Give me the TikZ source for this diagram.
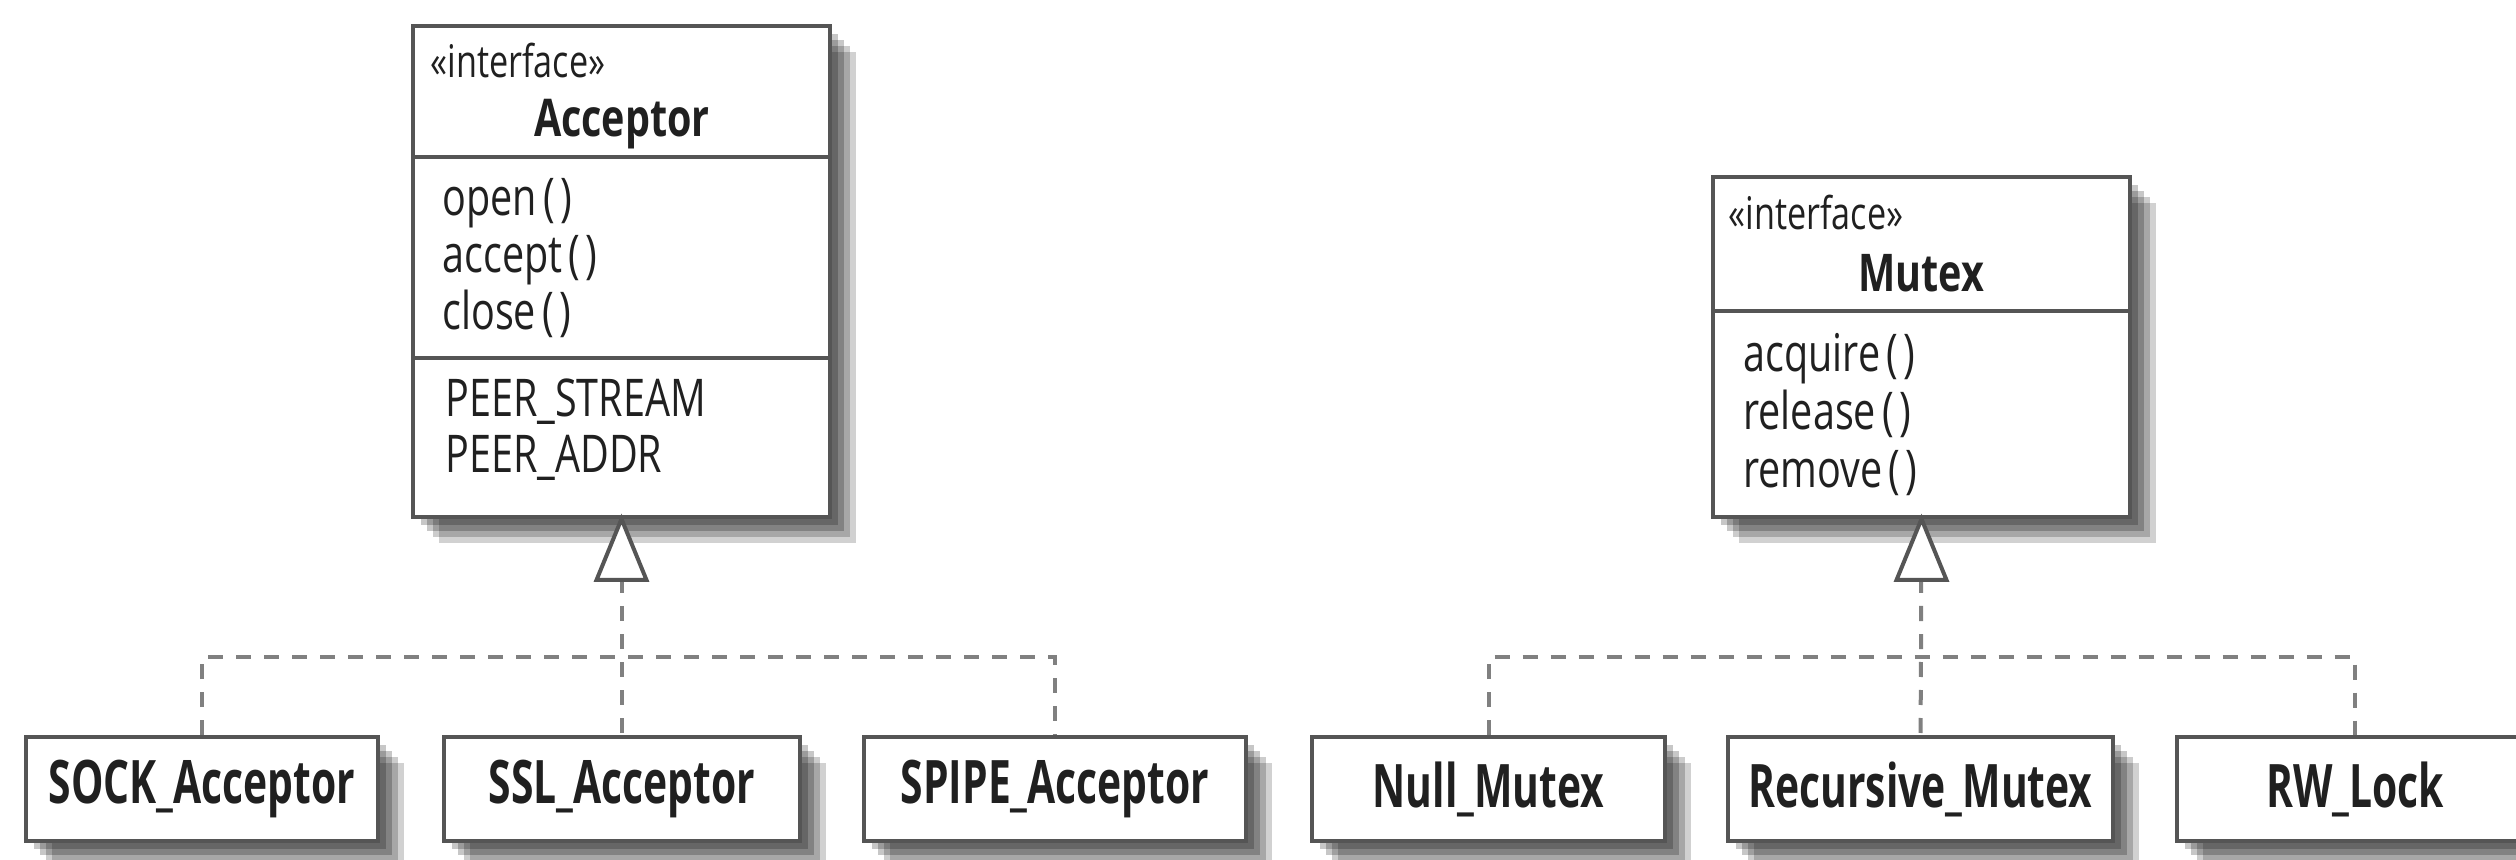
\documentclass[tikz,border=0pt]{standalone}
\usepackage{fontspec}
\setmainfont{Open Sans}[FakeStretch=0.76]
\newfontfamily\lblfont{Open Sans}[FakeStretch=0.68]
\usetikzlibrary{shadows}
\definecolor{bord}{HTML}{555555}
\definecolor{dashc}{HTML}{808080}
\definecolor{txt}{HTML}{202020}
\newcommand{\prs}{\hspace{0.12em}(\hspace{0.1em})}
\begin{document}
\begin{tikzpicture}[x=0.5pt,y=-0.5pt,
  shd/.style={
    drop shadow={shadow xshift=4pt,shadow yshift=-4pt,opacity=0.22,fill=black},
    drop shadow={shadow xshift=7pt,shadow yshift=-7pt,opacity=0.22,fill=black},
    drop shadow={shadow xshift=10pt,shadow yshift=-10pt,opacity=0.2,fill=black},
    drop shadow={shadow xshift=13pt,shadow yshift=-13pt,opacity=0.18,fill=black}},
  clsbox/.style={shd,draw=bord,line width=2pt,fill=white,inner sep=0pt},
  sub/.style={clsbox,minimum height=52pt,text=txt,
    font=\lblfont\fontsize{30}{30}\selectfont\bfseries},
  divl/.style={draw=bord,line width=2pt},
  stereo/.style={anchor=base west,inner sep=0pt,text=txt,font=\fontsize{22.5}{22.5}\selectfont},
  ttl/.style={anchor=base,inner sep=0pt,text=txt,font=\fontsize{26}{26}\selectfont\bfseries},
  mem/.style={anchor=base west,inner sep=0pt,text=txt,font=\fontsize{26}{26}\selectfont},
  tri/.style={draw=bord,line width=2pt,fill=white,line join=miter},
  dsh/.style={draw=dashc,line width=2pt,dash pattern=on 7.5pt off 6.5pt}
]
\useasboundingbox (0,0) rectangle (2516,860);
\clip (0,0) rectangle (2516,860);

% ---- Acceptor interface
\node[clsbox,minimum width=208.5pt,minimum height=245.5pt] (acc) at (621.5,271.5) {};
\node[stereo] (accst) at (430,78) {«interface»};
\node[ttl] (accname) at (622,137) {Acceptor};
\draw[divl] (acc.west |- 0,157) -- (acc.east |- 0,157);
\node[mem] (m1) at (442,216) {open\prs};
\node[mem] (m2) at (442,273) {accept\prs};
\node[mem] (m3) at (442,330) {close\prs};
\draw[divl] (acc.west |- 0,358) -- (acc.east |- 0,358);
\node[mem] (a1) at (445,417) {PEER\_STREAM};
\node[mem] (a2) at (445,473) {PEER\_ADDR};

% ---- Mutex interface
\node[clsbox,minimum width=208.5pt,minimum height=170pt] (mtx) at (1921.5,347) {};
\node[stereo] (mtxst) at (1728,230) {«interface»};
\node[ttl] (mtxname) at (1921,292) {Mutex};
\draw[divl] (mtx.west |- 0,311) -- (mtx.east |- 0,311);
\node[mem] (x1) at (1743,372) {acquire\prs};
\node[mem] (x2) at (1743,430) {release\prs};
\node[mem] (x3) at (1743,488) {remove\prs};

% ---- implementations
\node[sub,minimum width=176pt] (sock) at (202,789) {SOCK\_Acceptor};
\node[sub,minimum width=178pt] (ssl) at (622,789) {SSL\_Acceptor};
\node[sub,minimum width=191pt] (spipe) at (1055,789) {SPIPE\_Acceptor};
\node[sub,minimum width=176.5pt] (null) at (1488.5,789) {Null\_Mutex};
\node[sub,minimum width=192.5pt] (rec) at (1920.5,789) {Recursive\_Mutex};
\node[sub,minimum width=178pt] (rw) at (2355,789) {RW\_Lock};

% ---- realization connectors (Acceptor)
\coordinate (accB) at (622,578);
\coordinate (accJ) at (622,657);
\draw[dsh] (accB) -- (ssl.north);
\draw[dsh] (sock.north) -- (sock.north |- accJ) -- (spipe.north |- accJ) -- (spipe.north);
\draw[tri] (acc.south) -- ++(-25,61) -- ++(50,0) -- cycle;

% ---- realization connectors (Mutex)
\coordinate (mtxB) at (1921,578);
\coordinate (mtxJ) at (1921,657);
\draw[dsh] (mtxB) -- (mtxJ) -- (rec.north);
\draw[dsh] (null.north) -- (null.north |- mtxJ) -- (rw.north |- mtxJ) -- (rw.north);
\draw[tri] (mtx.south) -- ++(-25,61) -- ++(50,0) -- cycle;
\end{tikzpicture}
\end{document}
